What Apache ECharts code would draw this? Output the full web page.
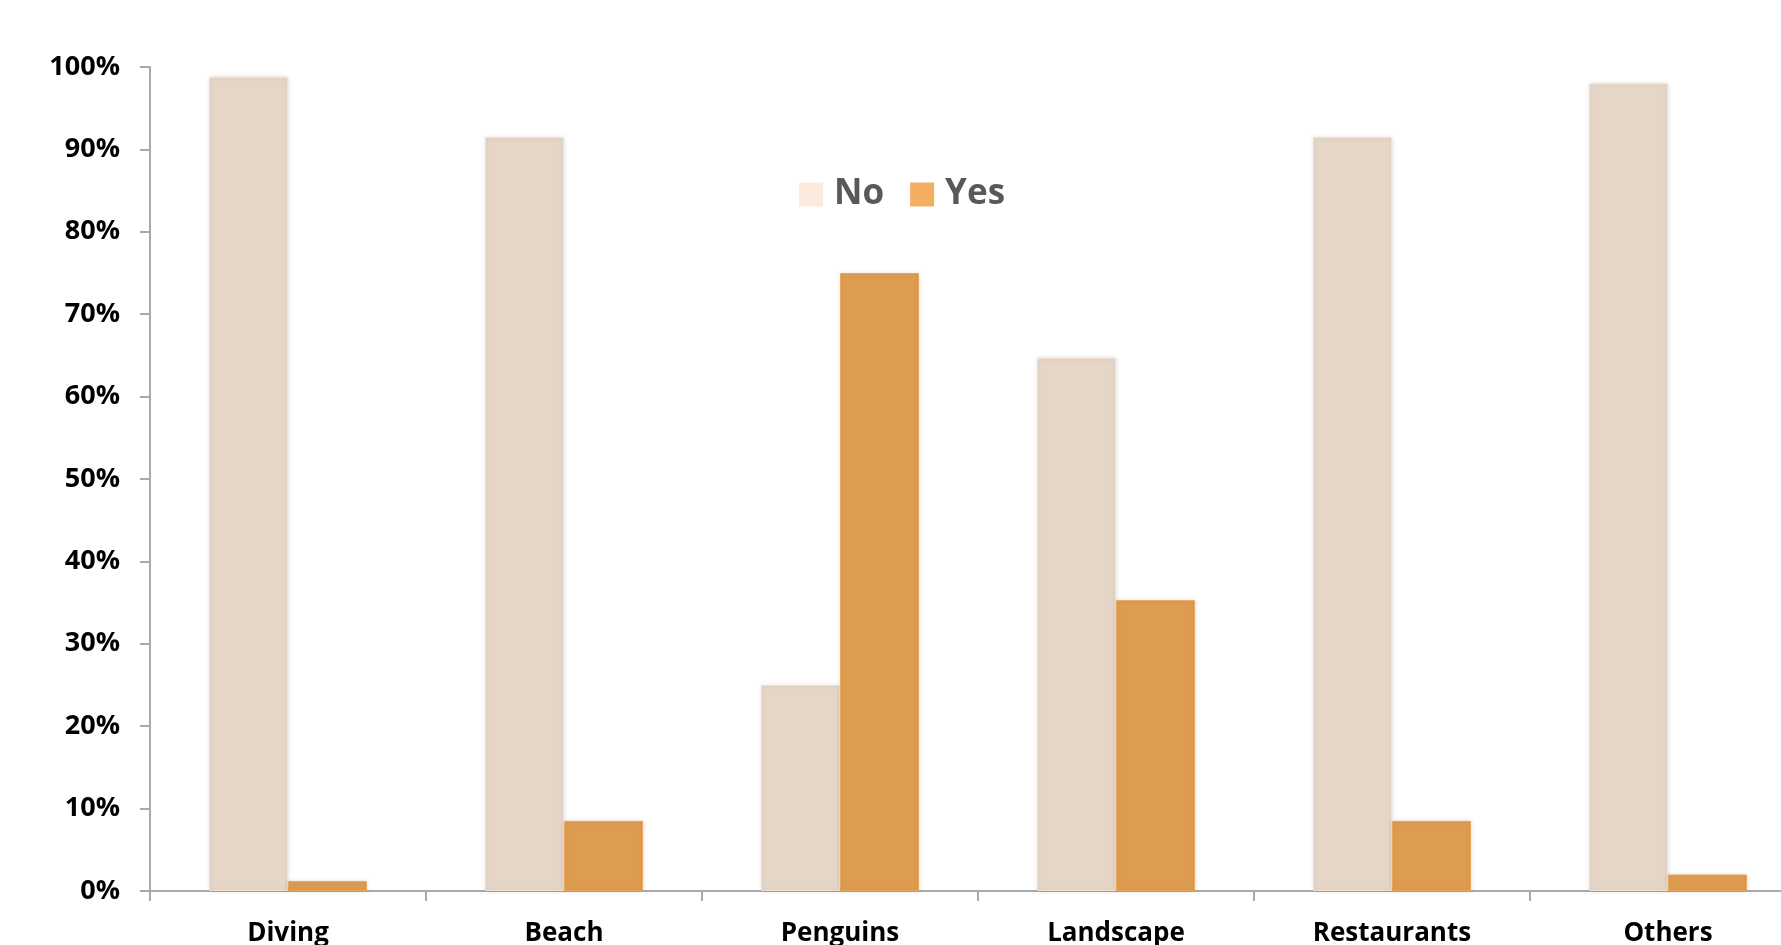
<!DOCTYPE html>
<html>
<head>
<meta charset="utf-8">
<script src="https://cdn.jsdelivr.net/npm/echarts@6/dist/echarts.min.js"></script>
<style>
html,body{margin:0;padding:0;background:#fff;overflow:hidden;}
#chart{width:1781px;height:945px;}
</style>
</head>
<body>
<div id="chart"></div>
<script>
const categories = ['Diving', 'Beach', 'Penguins', 'Landscape', 'Restaurants', 'Others'];
const noValues = [98.8, 91.5, 25.0, 64.7, 91.5, 98.0];
const yesValues = [1.2, 8.5, 75.0, 35.3, 8.5, 2.0];
const yTicks = [0, 10, 20, 30, 40, 50, 60, 70, 80, 90, 100];

const FONT = '"Open Sans", "Liberation Sans", sans-serif';
const chart = echarts.init(document.getElementById('chart'));
chart.setOption({
  animation: false,
  backgroundColor: '#ffffff',
  grid: { left: 150, width: 1656, top: 67, height: 824, containLabel: false, outerBoundsMode: 'none' },
  legend: {
    left: 799, top: 177, padding: 0,
    itemWidth: 24, itemHeight: 24, itemGap: 26,
    icon: 'rect',
    textStyle: { fontFamily: FONT, fontWeight: 'bold', fontSize: 35, color: '#595959', padding: [0, 0, 0, 6] },
    data: [
      { name: 'No', itemStyle: { color: '#fcebdd', borderWidth: 0, shadowBlur: 0 } },
      { name: 'Yes', itemStyle: { color: '#f2af62', borderWidth: 0, shadowBlur: 0 } }
    ]
  },
  xAxis: {
    type: 'category',
    data: categories,
    axisLine: { lineStyle: { color: '#a9a9a9', width: 2 } },
    axisTick: { show: true, length: 10, lineStyle: { color: '#a9a9a9', width: 2 } },
    axisLabel: { margin: 30, fontFamily: FONT, fontWeight: 'bold', fontSize: 26, color: '#000' }
  },
  yAxis: {
    type: 'value',
    min: 0, max: 100, interval: 10,
    splitLine: { show: false },
    axisLine: { show: true, lineStyle: { color: '#a9a9a9', width: 2 } },
    axisTick: { show: true, length: 10, lineStyle: { color: '#a9a9a9', width: 2 } },
    axisLabel: { margin: 30, fontFamily: FONT, fontWeight: 'bold', fontSize: 27, color: '#000',
      padding: [6, 0, 0, 0],
      formatter: v => yTicks.includes(v) ? v + '%' : '' }
  },
  series: [
    {
      name: 'No', type: 'bar', data: noValues, barWidth: 79, barGap: '0%',
      itemStyle: { color: '#e5d6c7', borderColor: '#f6e2d2', borderWidth: 1,
        shadowBlur: 4, shadowColor: 'rgba(0,0,0,0.12)' }
    },
    {
      name: 'Yes', type: 'bar', data: yesValues, barWidth: 79, barGap: '0%',
      itemStyle: { color: '#dd9c50', borderColor: '#eaa65a', borderWidth: 1,
        shadowBlur: 4, shadowColor: 'rgba(0,0,0,0.12)' }
    }
  ]
});
</script>
</body>
</html>
